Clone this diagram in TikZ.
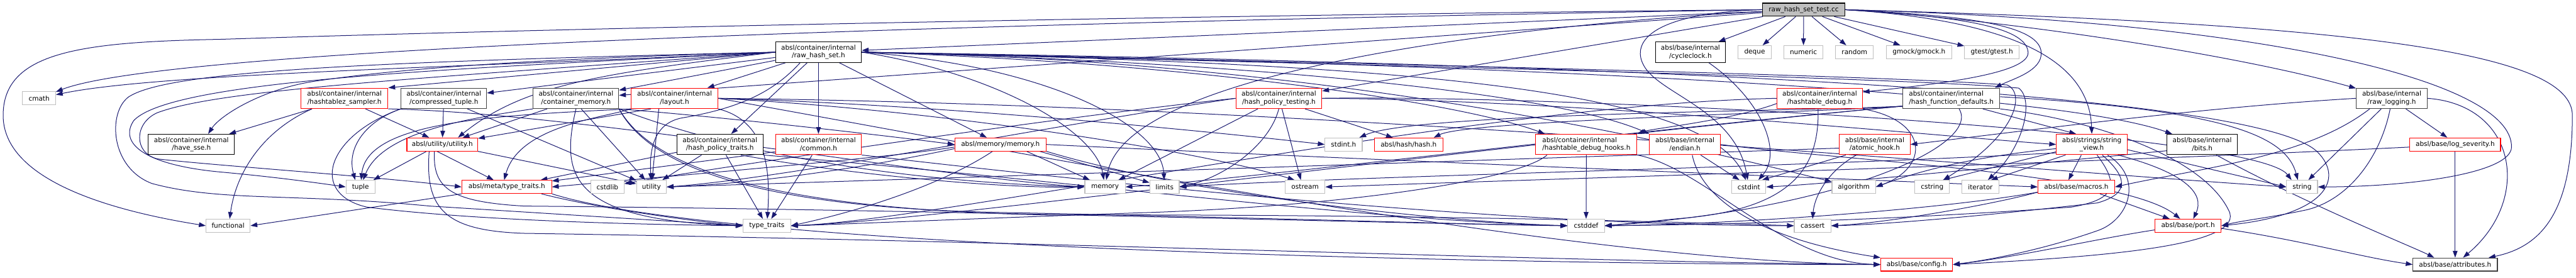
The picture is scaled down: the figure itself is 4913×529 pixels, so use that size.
\documentclass[tikz,border=0pt]{standalone}
\usepackage{fontspec}
\setmainfont{DejaVu Sans}
\usetikzlibrary{arrows.meta}
\pgfdeclarelayer{bg}
\pgfsetlayers{bg,main}
\definecolor{edgec}{HTML}{191970}
\definecolor{redc}{HTML}{FF0000}
\definecolor{sysc}{HTML}{BFBFBF}
\definecolor{darkc}{HTML}{404040}
\definecolor{rootc}{HTML}{BFBFBF}
\newcommand\nf{\fontsize{12.6}{15}\selectfont}
\tikzset{
 box/.style={draw, fill=white, inner sep=0pt, line width=1.3pt, align=center, font=\nf, text=black},
 sysn/.style={box, draw=sysc},
 redn/.style={box, draw=redc},
 blkn/.style={box, draw=black},
 grn/.style={box, draw=darkc},
 rootn/.style={box, draw=black, fill=rootc},
 one/.style={minimum height=25pt},
 two/.style={minimum height=39pt},
 wd/.style={minimum width=#1},
 edg/.style={draw=edgec, line width=1.2pt, -{Triangle[length=13pt,width=9pt]}}
}
\begin{document}
\begin{tikzpicture}[x=1pt,y=1pt]
\useasboundingbox (0,0) rectangle (4913,-529);
% nodes
\node[rootn,one,wd=158pt] (root) at (3440,-18.5) {raw\_hash\_set\_test.cc};
\node[blkn,two,wd=164pt] (rhs) at (1561,-99.5) {absl/container/internal\\/raw\_hash\_set.h};
\node[blkn,two,wd=134pt] (cyc) at (3224,-99.5) {absl/base/internal\\/cycleclock.h};
\node[sysn,one,wd=63pt] (deque) at (3346.5,-99.5) {deque};
\node[sysn,one,wd=75pt] (numeric) at (3439.5,-99.5) {numeric};
\node[sysn,one,wd=72pt] (random) at (3537,-99.5) {random};
\node[sysn,one,wd=124pt] (gmock) at (3660,-99.5) {gmock/gmock.h};
\node[sysn,one,wd=104pt] (gtest) at (3799,-99.5) {gtest/gtest.h};
\node[sysn,one,wd=63pt] (cmath) at (74.5,-187.5) {cmath};
\node[redn,two,wd=166pt] (hzs) at (657,-187.5) {absl/container/internal\\/hashtablez\_sampler.h};
\node[grn,two,wd=163pt] (ctup) at (846.5,-187.5) {absl/container/internal\\/compressed\_tuple.h};
\node[grn,two,wd=163pt] (cmem) at (1098.5,-187.5) {absl/container/internal\\/container\_memory.h};
\node[redn,two,wd=165pt] (lay) at (1286.5,-187.5) {absl/container/internal\\/layout.h};
\node[redn,two,wd=164pt] (hpt) at (2439,-187.5) {absl/container/internal\\/hash\_policy\_testing.h};
\node[redn,two,wd=163pt] (hdbg) at (3470.5,-187.5) {absl/container/internal\\/hashtable\_debug.h};
\node[grn,two,wd=185pt,align=left] (hfd) at (3721.5,-187.5) {absl/container/internal\\/hash\_function\_defaults.h};
\node[grn,two,wd=135pt] (rlog) at (4561.5,-187.5) {absl/base/internal\\/raw\_logging.h};
\node[blkn,two,wd=164pt] (sse) at (365,-275.5) {absl/container/internal\\/have\_sse.h};
\node[redn,one,wd=135pt] (uth) at (843.5,-275.5) {absl/utility/utility.h};
\node[blkn,two,wd=164pt] (hptr) at (1373,-275.5) {absl/container/internal\\/hash\_policy\_traits.h};
\node[redn,two,wd=164pt] (common) at (1561,-275.5) {absl/container/internal\\/common.h};
\node[redn,one,wd=174pt] (memh) at (1908,-275.5) {absl/memory/memory.h};
\node[sysn,one,wd=71pt] (stdinth) at (2562.5,-275.5) {stdint.h};
\node[redn,one,wd=131pt] (hash) at (2686.5,-275.5) {absl/hash/hash.h};
\node[redn,two,wd=193pt,align=left] (hooks) at (3025.5,-275.5) {absl/container/internal\\/hashtable\_debug\_hooks.h};
\node[redn,two,wd=135pt] (endian) at (3213.5,-275.5) {absl/base/internal\\/endian.h};
\node[redn,two,wd=135pt] (ahook) at (3575.5,-275.5) {absl/base/internal\\/atomic\_hook.h};
\node[redn,two,wd=135pt] (sv) at (3989.5,-275.5) {absl/strings/string\\\_view.h};
\node[blkn,two,wd=134pt] (bits) at (4200,-275.5) {absl/base/internal\\/bits.h};
\node[redn,one,wd=173pt] (lsev) at (4682.5,-275.5) {absl/base/log\_severity.h};
\node[sysn,one,wd=55pt] (tuple) at (687.5,-356.5) {tuple};
\node[redn,one,wd=171pt] (mtt) at (966.5,-356.5) {absl/meta/type\_traits.h};
\node[sysn,one,wd=63pt] (cstdlib) at (1158.5,-356.5) {cstdlib};
\node[sysn,one,wd=57pt] (utility) at (1242.5,-356.5) {utility};
\node[sysn,one,wd=77pt] (memory) at (2107.5,-356.5) {memory};
\node[sysn,one,wd=56pt] (limits) at (2221,-356.5) {limits};
\node[sysn,one,wd=76pt] (ostream) at (2489,-356.5) {ostream};
\node[sysn,one,wd=65pt] (cstdint) at (3335.5,-356.5) {cstdint};
\node[sysn,one,wd=83pt] (algorithm) at (3535.5,-356.5) {algorithm};
\node[sysn,one,wd=66pt] (cstring) at (3685,-356.5) {cstring};
\node[sysn,one,wd=70pt] (iterator) at (3777,-356.5) {iterator};
\node[redn,one,wd=146pt] (macros) at (3960,-356.5) {absl/base/macros.h};
\node[sysn,one,wd=59pt] (string) at (4390.5,-356.5) {string};
\node[sysn,one,wd=84pt] (functional) at (435,-430.5) {functional};
\node[sysn,one,wd=91pt] (tt) at (1462.5,-430.5) {type\_traits};
\node[sysn,one,wd=70pt] (cstddef) at (3025,-430.5) {cstddef};
\node[sysn,one,wd=70pt] (cassert) at (3457,-430.5) {cassert};
\node[redn,one,wd=126pt] (port) at (4173,-430.5) {absl/base/port.h};
\node[redn,one,wd=137pt] (config) at (3655.5,-504.5) {absl/base/config.h};
\node[grn,one,wd=161pt] (attr) at (4682.5,-504.5) {absl/base/attributes.h};
\begin{pgfonlayer}{bg}
% root
\draw[edg] (root) -- (rhs);
\draw[edg] (root.west) .. controls (1500,-50) and (300,-100) .. (cmath);
\draw[edg] (root.west) .. controls (2400,-28) and (1200,-50) .. (420,-75) .. controls (150,-80) and (6,-100) .. (6,-220) .. controls (6,-340) and (200,-400) .. (functional.west);
\draw[edg] (root.west) .. controls (3150,-25) and (3110,-80) .. (3135,-125) .. controls (3165,-180) and (3310,-210) .. (cstdint);
\draw[edg] (root) -- (deque);
\draw[edg] (root) -- (numeric);
\draw[edg] (root) -- (random);
\draw[edg] (root) -- (gmock);
\draw[edg] (root) -- (gtest);
\draw[edg] (root) -- (cyc);
\draw[edg] (root) .. controls (3000,-40) and (2150,-120) .. (memory);
\draw[edg] (root.east) .. controls (4300,-40) and (4790,-150) .. (4790,-280) .. controls (4790,-330) and (4600,-356) .. (string.east);
\draw[edg] (root.east) .. controls (4500,-45) and (4906,-100) .. (4906,-220) .. controls (4906,-400) and (4850,-470) .. (attr);
\draw[edg] (root.east) .. controls (3800,-35) and (4250,-100) .. (rlog);
\draw[edg] (root) -- (cmem);
\draw[edg] (root.east) .. controls (3700,-28) and (3890,-40) .. (3893,-100) .. controls (3895,-135) and (3840,-150) .. ([xshift=-10pt]hfd.north east);
\draw[edg] (root.east) .. controls (3700,-30) and (3865,-45) .. (3868,-100) .. controls (3870,-140) and (3700,-160) .. ([yshift=12pt]hdbg.east);
\draw[edg] (root.east) .. controls (3850,-40) and (3985,-120) .. (sv.north);
\draw[edg] (root) -- (hpt);
% raw_hash_set.h
\draw[edg] (rhs.west) .. controls (900,-128) and (300,-140) .. (cmath);
\draw[edg] (rhs.west) .. controls (1100,-110) and (800,-125) .. (600,-155) .. controls (500,-170) and (420,-220) .. ([xshift=32pt]sse.north);
\draw[edg] (rhs.west) -- (hzs.north east);
\draw[edg] (rhs) -- (ctup);
\draw[edg] (rhs) -- (cmem);
\draw[edg] (rhs) -- (lay);
\draw[edg] (rhs) -- (hptr);
\draw[edg] (rhs) -- (common);
\draw[edg] (rhs) -- (memh);
\draw[edg] (rhs.west) .. controls (1150,-140) and (1000,-160) .. ([xshift=30pt]uth.north);
\draw[edg] (rhs.west) .. controls (900,-130) and (330,-150) .. (255,-230) .. controls (225,-275) and (280,-315) .. (420,-328) .. controls (520,-337) and (600,-348) .. (tuple.west);
\draw[edg] (rhs.west) .. controls (800,-150) and (420,-170) .. (300,-215) .. controls (255,-235) and (255,-292) .. (300,-303) .. controls (400,-315) and (700,-335) .. (mtt.west);
\draw[edg] (rhs.west) .. controls (700,-118) and (320,-135) .. (245,-185) .. controls (205,-215) and (210,-320) .. (290,-350) .. controls (420,-385) and (560,-368) .. (820,-393) -- (tt.west);
\draw[edg] ([xshift=-35pt]rhs.south) .. controls (1480,-170) and (1420,-205) .. (1300,-225) .. controls (1250,-235) and (1238,-280) .. (utility);
\draw[edg] (rhs.east) .. controls (1900,-140) and (2090,-250) .. (memory);
\draw[edg] (rhs.east) .. controls (2000,-125) and (2215,-240) .. (limits);
\draw[edg] (rhs.east) .. controls (2600,-115) and (3300,-300) .. (algorithm);
\draw[edg] (rhs.east) .. controls (2600,-120) and (3250,-160) .. (cstdint);
\draw[edg] (rhs.east) .. controls (2800,-125) and (3600,-145) .. (3828,-162) .. controls (3860,-175) and (3855,-250) .. (cstring);
\draw[edg] (rhs.east) .. controls (2800,-128) and (3650,-150) .. (3850,-168) .. controls (3880,-190) and (3860,-280) .. (iterator);
\draw[edg] (rhs.east) .. controls (2800,-120) and (3900,-170) .. (bits);
\draw[edg] (rhs.east) .. controls (2300,-115) and (2950,-170) .. (endian.north west);
\draw[edg] (rhs.east) .. controls (2300,-120) and (2800,-200) .. ([xshift=18pt]hooks.north west);
\draw[edg] (rhs.east) .. controls (3000,-120) and (4300,-170) .. (4420,-290) .. controls (4470,-340) and (4440,-410) .. (port.east);
% compressed_tuple.h
\draw[edg] (ctup.south west) .. controls (700,-230) and (660,-280) .. ([xshift=-10pt]tuple.north);
\draw[edg] (ctup) -- (uth);
\draw[edg] ([xshift=45pt]ctup.south) -- (utility);
\draw[edg] (ctup.south west) .. controls (620,-260) and (590,-370) .. (700,-395) .. controls (900,-420) and (1200,-428) .. (tt.west);
% container_memory.h
\draw[edg] (cmem.south west) .. controls (900,-225) and (730,-250) .. ([xshift=5pt]tuple.north);
\draw[edg] ([xshift=-55pt]cmem.south) -- (uth);
\draw[edg] ([xshift=10pt]cmem.south) -- (utility);
\draw[edg] (cmem.south east) .. controls (1400,-225) and (1700,-260) .. (memh.west);
\draw[edg] (cmem.south east) .. controls (1500,-330) and (1900,-352) .. (memory.west);
\draw[edg] (cmem.south east) .. controls (1250,-330) and (1500,-400) .. (2000,-410) .. controls (2700,-408) and (3250,-425) .. (cassert.west);
\draw[edg] (cmem.south east) .. controls (1240,-320) and (1450,-395) .. (1900,-405) .. controls (2400,-415) and (2800,-428) .. (cstddef.west);
\draw[edg] (cmem.south) .. controls (1070,-330) and (1080,-420) .. (tt.west);
% layout.h
\draw[edg] ([xshift=-45pt]lay.south) -- (uth);
\draw[edg] ([xshift=-83pt]lay.south) .. controls (1150,-225) and (990,-240) .. ([xshift=-5pt]mtt.north);
\draw[edg] (lay.south west) .. controls (950,-220) and (700,-230) .. (tuple);
\draw[edg] ([xshift=-30pt]lay.south) -- (utility);
\draw[edg] (lay.east) .. controls (1800,-200) and (2300,-250) .. (stdinth.west);
\draw[edg] (lay.east) .. controls (1800,-210) and (2300,-290) .. ([xshift=-20pt]ostream.north);
\draw[edg] (lay.east) .. controls (2500,-200) and (3800,-320) .. (string.west);
\draw[edg] (lay.south east) .. controls (1460,-230) and (1470,-320) .. (tt);
\draw[edg] (lay.east) .. controls (2000,-300) and (3000,-500) .. (config.west);
% hashtablez_sampler.h
\draw[edg] ([xshift=-62pt]hzs.south) .. controls (500,-250) and (450,-330) .. ([xshift=3pt]functional.north);
\draw[edg] ([xshift=-62pt]hzs.south) -- ([xshift=72pt]sse.north);
\draw[edg] ([xshift=40pt]hzs.south) -- ([xshift=-25pt]uth.north);
\draw[edg] (hzs.south east) .. controls (1100,-215) and (1800,-340) .. (memory.west);
% hash_policy_traits.h
\draw[edg] ([xshift=-35pt]hptr.south) -- (utility);
\draw[edg] (hptr) -- (tt);
\draw[edg] ([yshift=-15pt]hptr.west) -- (mtt);
\draw[edg] ([xshift=40pt]hptr.south) .. controls (1600,-330) and (1900,-360) .. (memory.west);
\draw[edg] (hptr.south east) .. controls (2000,-340) and (2600,-420) .. (cstddef.west);
% common.h
\draw[edg] ([xshift=-12pt]common.south) -- (tt);
\draw[edg] ([yshift=-14pt]common.west) -- (mtt);
\draw[edg] (common.south east) .. controls (2200,-360) and (2900,-430) .. (cassert.west);
% memory.h
\draw[edg] ([yshift=-5pt]memh.west) .. controls (1700,-300) and (1400,-325) .. (mtt.east);
\draw[edg] ([xshift=-15pt]memh.south) .. controls (1800,-350) and (1650,-400) .. (tt.east);
\draw[edg] ([yshift=-8pt]memh.west) .. controls (1600,-330) and (1400,-352) .. (utility.east);
\draw[edg] ([xshift=50pt]memh.south) -- (memory);
\draw[edg] ([xshift=75pt]memh.south) -- (limits);
\draw[edg] (memh.south east) .. controls (2300,-380) and (2800,-425) .. (cstddef.west);
\draw[edg] (memh.east) .. controls (2500,-300) and (3600,-345) .. (macros.west);
% hash_policy_testing.h
\draw[edg] ([xshift=6pt]hpt.south) -- ([xshift=-8pt]ostream.north);
\draw[edg] ([xshift=50pt]hpt.south) -- ([xshift=-30pt]hash.north);
\draw[edg] ([xshift=-40pt]hpt.south) -- (memory);
\draw[edg] (hpt.south) .. controls (2420,-280) and (2330,-340) .. (limits.east);
\draw[edg] (hpt.west) .. controls (2000,-240) and (1500,-340) .. (utility.east);
\draw[edg] (hpt.west) .. controls (2000,-225) and (1300,-330) .. (cstdlib);
\draw[edg] (hpt.east) .. controls (3000,-180) and (4300,-250) .. ([xshift=-20pt]string.north);
\draw[edg] (hpt.east) .. controls (3000,-190) and (3700,-260) .. (sv.west);
% hashtable_debug.h
\draw[edg] ([xshift=-3pt]hdbg.south) .. controls (3470,-320) and (3420,-400) .. (3200,-417) .. controls (3120,-425) and (3090,-428) .. (cstddef.east);
\draw[edg] ([yshift=-10pt]hdbg.west) .. controls (3300,-230) and (3150,-245) .. (hooks.north east);
\draw[edg] (hdbg.south east) .. controls (3680,-230) and (3680,-320) .. (algorithm.east);
\draw[edg] (hdbg.west) .. controls (2800,-200) and (1800,-420) .. (tt.east);
% hash_function_defaults.h
\draw[edg] ([yshift=-15pt]hfd.west) .. controls (3450,-215) and (2800,-230) .. ([xshift=48pt]hash.north);
\draw[edg] ([yshift=-15pt]hfd.west) .. controls (3450,-212) and (2700,-215) .. ([xshift=30pt]stdinth.north);
\draw[edg] ([xshift=60pt]hfd.south) -- ([xshift=-30pt]sv.north);
\draw[edg] ([yshift=3pt]hfd.east) .. controls (4250,-210) and (4360,-260) .. ([xshift=-8pt]string.north);
\draw[edg] ([yshift=-15pt]hfd.west) .. controls (3000,-260) and (2400,-340) .. (memory.east);
\draw[edg] ([xshift=15pt]hfd.south) .. controls (3780,-280) and (3500,-400) .. (cstddef.east);
\draw[edg] ([yshift=-15pt]hfd.west) .. controls (2800,-280) and (1800,-420) .. (tt.east);
\draw[edg] (hfd.south east) .. controls (4000,-230) and (4200,-300) .. (4250,-400) .. controls (4290,-470) and (4000,-490) .. (config.east);
% cycleclock.h
\draw[edg] ([xshift=35pt]cyc.south) .. controls (3360,-190) and (3400,-290) .. ([xshift=18pt]cstdint.north);
% raw_logging.h
\draw[edg] ([xshift=27pt]rlog.south) -- ([xshift=-15pt]lsev.north);
\draw[edg] ([xshift=-20pt]rlog.south) -- ([xshift=12pt]string.north);
\draw[edg] (rlog.east) .. controls (4800,-200) and (4830,-380) .. ([xshift=15pt]attr.north);
\draw[edg] ([xshift=-3pt]rlog.south) .. controls (4540,-300) and (4480,-380) .. (4400,-400) .. controls (4330,-415) and (4280,-420) .. (port.east);
\draw[edg] ([xshift=-42pt]rlog.south) .. controls (4400,-300) and (4200,-320) .. (macros.east);
\draw[edg] (rlog.west) .. controls (4200,-205) and (3900,-245) .. (ahook.east);
% utility.h
\draw[edg] ([xshift=-30pt]uth.south) -- (tuple);
\draw[edg] ([xshift=-10pt]uth.south) -- ([xshift=-25pt]mtt.north);
\draw[edg] (uth.south east) -- (utility);
\draw[edg] ([xshift=-15pt]uth.south) .. controls (825,-360) and (860,-385) .. (1000,-393) .. controls (1800,-400) and (2600,-425) .. (cstddef.west);
\draw[edg] ([xshift=-25pt]uth.south) .. controls (810,-400) and (850,-440) .. (1000,-445) .. controls (2000,-460) and (3000,-500) .. (config.west);
% meta/type_traits.h
\draw[edg] (mtt.south west) -- (functional.east);
\draw[edg] ([xshift=-20pt]mtt.south east) .. controls (1150,-400) and (1350,-425) .. (tt.west);
\draw[edg] (mtt.south east) .. controls (1400,-480) and (3000,-505) .. (config.west);
% hashtable_debug_hooks.h
\draw[edg] (hooks) -- (cstddef);
\draw[edg] ([xshift=-75pt]hooks.south) .. controls (2900,-340) and (2600,-390) .. (2200,-405) .. controls (1900,-415) and (1600,-428) .. (tt.east);
\draw[edg] (hooks.south east) .. controls (3250,-320) and (3400,-500) .. (config.west);
% endian.h
\draw[edg] ([xshift=30pt]endian.south) -- ([xshift=-18pt]cstdint.north);
\draw[edg] ([xshift=14pt]endian.south) .. controls (3240,-360) and (3320,-450) .. (config.north west);
\draw[edg] (endian.east) .. controls (3500,-305) and (4050,-330) .. ([xshift=-15pt]port.north);
% atomic_hook.h
\draw[edg] ([xshift=-55pt]ahook.south) -- ([xshift=25pt]cstdint.north);
\draw[edg] ([xshift=-35pt]ahook.south) .. controls (3480,-330) and (3460,-380) .. (cassert.north);
\draw[edg] ([yshift=-7pt]ahook.west) .. controls (3000,-300) and (1800,-340) .. (utility.east);
% string_view.h
\draw[edg] ([xshift=-20pt]sv.south) -- ([xshift=-15pt]macros.north);
\draw[edg] ([yshift=-14pt]sv.west) -- ([xshift=20pt]cstring.north);
\draw[edg] ([xshift=-50pt]sv.south) -- ([xshift=20pt]iterator.north);
\draw[edg] ([yshift=-8pt]sv.west) .. controls (3750,-300) and (3650,-330) .. (algorithm.east);
\draw[edg] ([yshift=-10pt]sv.east) -- (string.west);
\draw[edg] ([xshift=50pt]sv.south) .. controls (4170,-330) and (4205,-370) .. ([xshift=10pt]port.north);
\draw[edg] ([xshift=30pt]sv.south) .. controls (4090,-340) and (4060,-420) .. (4000,-440) .. controls (3900,-475) and (3800,-495) .. (config.east);
\draw[edg] ([xshift=20pt]sv.south) .. controls (4060,-340) and (4060,-370) .. (4000,-387) .. controls (3800,-410) and (3600,-428) .. (cassert.east);
\draw[edg] ([xshift=10pt]sv.south) .. controls (4040,-350) and (4040,-380) .. (3950,-395) .. controls (3600,-420) and (3300,-428) .. (cstddef.east);
\draw[edg] ([yshift=-16pt]sv.west) .. controls (3400,-320) and (2600,-335) .. (limits.east);
% bits.h
\draw[edg] ([yshift=-12pt]bits.west) .. controls (3900,-310) and (3500,-350) .. (cstdint.east);
\draw[edg] ([xshift=27pt]bits.south) .. controls (4400,-390) and (4600,-470) .. ([xshift=-40pt]attr.north);
% log_severity.h
\draw[edg] (lsev) -- (attr);
\draw[edg] ([yshift=-5pt]lsev.west) .. controls (4000,-310) and (3000,-340) .. (ostream.east);
% macros.h
\draw[edg] ([xshift=45pt]macros.south) -- ([xshift=-35pt]port.north);
\draw[edg] ([yshift=-10pt]macros.west) .. controls (3800,-390) and (3600,-425) .. (cassert.east);
\draw[edg] ([yshift=-10pt]macros.west) .. controls (3700,-400) and (3300,-428) .. (cstddef.east);
% port.h
\draw[edg] ([yshift=-5pt]port.east) .. controls (4400,-460) and (4500,-490) .. (attr.west);
\draw[edg] ([yshift=-8pt]port.west) .. controls (4000,-455) and (3850,-490) .. (config.east);
\end{pgfonlayer}
\end{tikzpicture}
\end{document}
